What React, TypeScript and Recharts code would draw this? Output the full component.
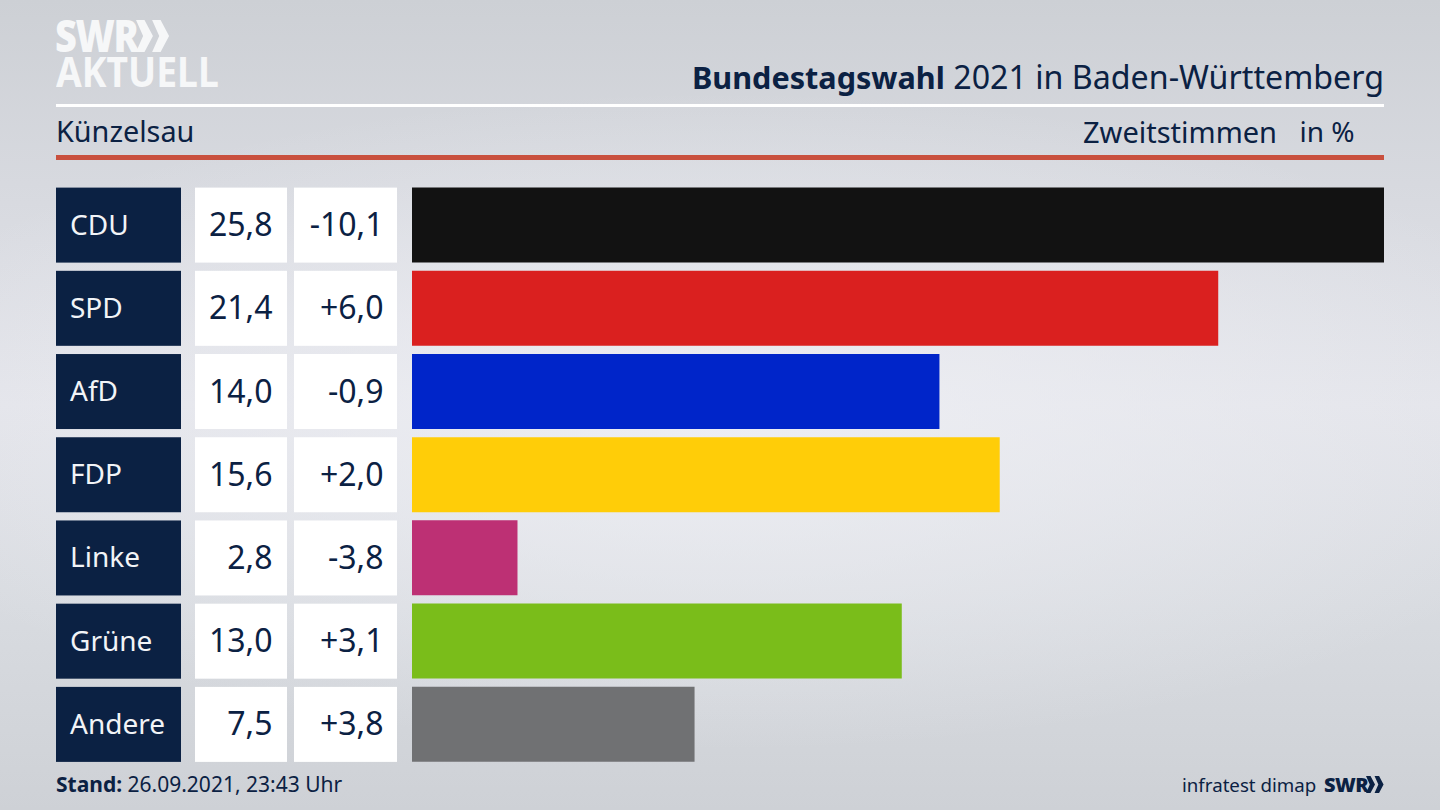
import React from 'react';
import { BarChart, Bar, XAxis, YAxis, Cell } from 'recharts';

const parties = ['CDU', 'SPD', 'AfD', 'FDP', 'Linke', 'Grüne', 'Andere'];
const shares = [25.8, 21.4, 14.0, 15.6, 2.8, 13.0, 7.5];
const changes = ['-10,1', '+6,0', '-0,9', '+2,0', '-3,8', '+3,1', '+3,8'];
const partyColors = ['#121212', '#da201f', '#0025c9', '#ffcd08', '#bd3074', '#7abd1a', '#707173'];

const rows = parties.map((party, i) => ({ party, share: shares[i] }));

const NAVY = '#0b2143';
const FONT = '"Noto Sans", sans-serif';

function fmt(v: number) {
  return v.toFixed(1).replace('.', ',');
}

function RowTick(props: any) {
  const { y, payload } = props;
  const i = payload.index;
  const top = y - 37.5;
  const base = y + 11;
  return (
    <g fontFamily={FONT} fontSize={32}>
      <rect x={56} y={top} width={125} height={75} fill={NAVY} />
      <rect x={195} y={top} width={92} height={75} fill="#ffffff" />
      <rect x={294} y={top} width={103} height={75} fill="#ffffff" />
      <text x={70} y={base - 1.5} fill="#f2f4f7" fontSize={28}>{parties[i]}</text>
      <text x={272.5} y={base} fill={NAVY} textAnchor="end">{fmt(shares[i])}</text>
      <text x={383.5} y={base} fill={NAVY} textAnchor="end">{changes[i]}</text>
    </g>
  );
}

const abs = (s: React.CSSProperties): React.CSSProperties => ({ position: 'absolute', whiteSpace: 'nowrap', lineHeight: 1, ...s });

function Chevrons({ x, y, h, fill }: { x: number; y: number; h: number; fill: string }) {
  const w = h * 0.53;
  const pts = (o: number) =>
    `${x + o},${y} ${x + o + w * 0.5},${y} ${x + o + w},${y + h / 2} ${x + o + w * 0.5},${y + h} ${x + o},${y + h} ${x + o + w * 0.42},${y + h / 2}`;
  return (
    <svg style={{ position: 'absolute', left: 0, top: 0 }} width={1440} height={810}>
      <polygon points={pts(0)} fill={fill} />
      <polygon points={pts(w * 0.95)} fill={fill} />
    </svg>
  );
}

export default function App() {
  return (
    <div
      style={{
        position: 'fixed', left: 0, top: 0, width: 1440, height: 810, overflow: 'hidden', fontFamily: FONT, color: NAVY,
        background:
          'radial-gradient(ellipse 900px 330px at 50% 52%, rgba(238,239,244,0.9) 0%, rgba(238,239,244,0) 100%), linear-gradient(180deg, #cdd0d5 0%, #d8dae0 25%, #e3e4ea 50%, #d8dbe0 75%, #ced1d6 100%)',
      }}
    >
      <div style={abs({ left: 55, top: 19, height: 32, lineHeight: '32px', fontSize: 44, fontWeight: 900, color: '#f6f7f8', letterSpacing: -1.5, transform: 'scaleX(0.86)', transformOrigin: 'left' })}>SWR</div>
      <Chevrons x={136} y={20} h={32} fill="#f6f7f8" />
      <div style={abs({ left: 56, top: 57, height: 30, lineHeight: '30px', fontSize: 40.5, fontWeight: 700, color: '#f6f7f8', transform: 'scaleX(0.92)', transformOrigin: 'left' })}>AKTUELL</div>

      <div style={abs({ right: 56, top: 61, fontSize: 32.2 })}>
        <span style={{ fontWeight: 700, fontSize: 30.6 }}>Bundestagswahl</span> 2021 in Baden-Württemberg
      </div>
      <div style={abs({ left: 56, top: 104, width: 1328, height: 3, background: '#ffffff' })} />
      <div style={abs({ left: 56, top: 117, fontSize: 28.8 })}>Künzelsau</div>
      <div style={abs({ left: 1083, top: 117, fontSize: 29 })}>Zweitstimmen</div>
      <div style={abs({ left: 1299.5, top: 117, fontSize: 28 })}>in %</div>
      <div style={abs({ left: 56, top: 155, width: 1328, height: 5, background: '#c9503e' })} />

      <div style={abs({ left: 0, top: 0 })}>
        <BarChart
          width={1440}
          height={810}
          layout="vertical"
          data={rows}
          margin={{ top: 183.5, right: 56, bottom: 44, left: 0 }}
          barCategoryGap={8}
        >
          <XAxis type="number" hide domain={[0, 25.8]} />
          <YAxis type="category" dataKey="party" width={412} axisLine={false} tickLine={false} tick={<RowTick />} interval={0} />
          <Bar dataKey="share" barSize={75} isAnimationActive={false}>
            {rows.map((r, i) => (
              <Cell key={r.party} fill={partyColors[i]} />
            ))}
          </Bar>
        </BarChart>
      </div>

      <div style={abs({ left: 56, top: 774, fontSize: 21 })}>
        <span style={{ fontWeight: 700 }}>Stand:</span> 26.09.2021, 23:43 Uhr
      </div>
      <div style={abs({ left: 1182, top: 776, fontSize: 18.7 })}>infratest dimap</div>
      <div style={abs({ left: 1324, top: 775, fontSize: 20, fontWeight: 900, letterSpacing: -0.5 })}>SWR</div>
      <Chevrons x={1366} y={776} h={17} fill={NAVY} />
    </div>
  );
}
